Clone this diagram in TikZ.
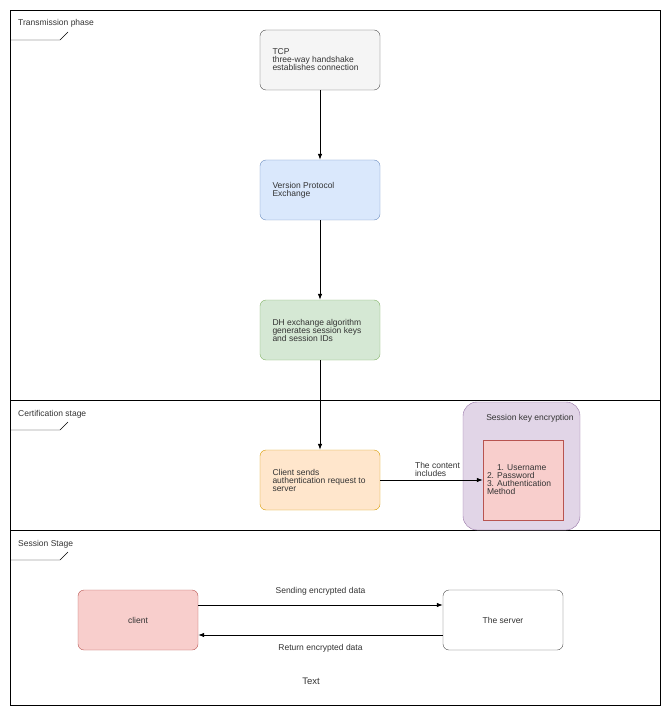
\documentclass[tikz,border=0pt]{standalone}
\usepackage{fontspec}
\setmainfont{Liberation Sans}
\usetikzlibrary{shapes,arrows,positioning,arrows.meta}
\usepackage{xcolor}
\definecolor{blueFill}{HTML}{DAE8FC}\definecolor{blueLine}{HTML}{6C8EBF}
\definecolor{greenFill}{HTML}{D5E8D4}\definecolor{greenLine}{HTML}{82B366}
\definecolor{orangeFill}{HTML}{FFE6CC}\definecolor{orangeLine}{HTML}{D79B00}
\definecolor{purpleFill}{HTML}{E1D5E7}\definecolor{purpleLine}{HTML}{9673A6}
\definecolor{redFill}{HTML}{F8CECC}\definecolor{redLine}{HTML}{B85450}
\begin{document}
\begin{tikzpicture}[x=1pt, y=-1pt, every node/.style={font=\fontsize{8.5}{8}\selectfont, text=black!80}]
    \tikzstyle{stepBox} = [rectangle, draw, rounded corners=6pt, minimum width=120pt, minimum height=60pt, text width=95pt, align=flush left]
    \tikzstyle{endBox} = [rectangle, draw, rounded corners=6pt, minimum width=120pt, minimum height=60pt]
    \tikzstyle{lane} = [anchor=west, inner sep=0pt]
    \tikzstyle{flow} = [-{Latex[length=6pt]}, thick]
    \useasboundingbox (0,0) rectangle (671,711);
    % lanes
    \draw (10,10) rectangle (660,705);
    \draw (10,400) -- (660,400);
    \draw (10,530) -- (660,530);
    \node (transLane) [lane] at (18,23) {Transmission phase};
    \node (certLane) [lane] at (18,414) {Certification stage};
    \node (sessLane) [lane] at (18,544) {Session Stage};
    \draw (10,40) -- (60,40) -- (68,32);
    \draw (10,430) -- (60,430) -- (68,422);
    \draw (10,560) -- (60,560) -- (68,552);

    \node (tcp) [stepBox, fill=black!4, draw=black!70] at (320,60) {TCP\\three-way handshake establishes connection};
    \node (version) [stepBox, fill=blueFill, draw=blueLine] at (320,190) {Version Protocol Exchange};
    \node (dh) [stepBox, fill=greenFill, draw=greenLine] at (320,330) {DH exchange algorithm generates session keys and session IDs};
    \node (request) [stepBox, fill=orangeFill, draw=orangeLine] at (320,480) {Client sends authentication request to server};
    \node (sessKey) [rectangle, draw=purpleLine, fill=purpleFill, rounded corners=14pt, minimum width=117pt, minimum height=128pt] at (521.5,466) {};
    \node (keyLabel) [inner sep=0pt] at (530,418) {Session key encryption};
    \node (content) [rectangle, draw=redLine, fill=redFill, minimum width=80pt, minimum height=80pt, text width=72pt, align=flush left] at (523,480) {\hspace*{10pt}1. Username\\2. Password\\3. Authentication Method};
    \node (client) [endBox, fill=redFill, draw=redLine] at (138,620) {client};
    \node (server) [endBox, fill=white, draw=black!70] at (503,620) {The server};
    \node (textNote) [inner sep=0pt, font=\fontsize{9.5}{9.5}\selectfont] at (311,681) {Text};

    \draw [flow] (tcp) -- (version);
    \draw [flow] (version) -- (dh);
    \draw [flow] (dh) -- (request);
    \draw [flow] (request) -- node[above, align=left, xshift=6pt] {The content\\includes} (content);
    \draw [flow] (client.east |- 0,605) -- node[above=6pt] {Sending encrypted data} (server.west |- 0,605);
    \draw [flow] (server.west |- 0,635) -- node[below=6pt] {Return encrypted data} (client.east |- 0,635);
\end{tikzpicture}
\end{document}
